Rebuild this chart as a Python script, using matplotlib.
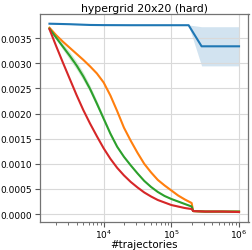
import matplotlib
matplotlib.use("Agg")
import matplotlib.pyplot as plt
import numpy as np

title = "hypergrid 20x20 (hard)"
xlabel = "#trajectories"

traj = [1585, 1995, 2512, 3162, 3981, 5012, 6310, 7943, 10000, 12589, 15849,
        19953, 25119, 31623, 39811, 50119, 63096, 79433, 100000, 125893, 158489,
        199526, 210000, 316228, 562341, 1000000]

orange = [0.00371, 0.00356, 0.00343, 0.00331, 0.00319, 0.00307, 0.00294, 0.00280,
          0.00262, 0.00236, 0.00205, 0.00172, 0.00146, 0.00122, 0.00100, 0.00083,
          0.00068, 0.00057, 0.00047, 0.00037, 0.00029, 0.00022,
          0.00006, 0.00005, 0.00005, 0.00005]
orange_sd = [0.00002] * 26

green = [0.00369, 0.00351, 0.00333, 0.00315, 0.00296, 0.00274, 0.00249, 0.00220,
         0.00190, 0.00160, 0.00134, 0.00114, 0.00097, 0.00081, 0.00066, 0.00054,
         0.00044, 0.00036, 0.00030, 0.00025, 0.00020, 0.00015,
         0.00006, 0.00005, 0.00005, 0.00005]
green_sd = [0.00002, 0.00004, 0.00006, 0.00008, 0.00008, 0.00008, 0.00007, 0.00006,
            0.00005, 0.00004, 0.00003, 0.00002, 0.00002, 0.00001, 0.00001, 0.00001,
            0.00001, 0.00001, 0.00001, 0.00001, 0.00001, 0.00001,
            0.00001, 0.00001, 0.00001, 0.00001]

red = [0.00368, 0.00334, 0.00301, 0.00269, 0.00237, 0.00207, 0.00180, 0.00155,
       0.00131, 0.00110, 0.00092, 0.00077, 0.00064, 0.00053, 0.00043, 0.00035,
       0.00028, 0.00023, 0.00018, 0.00015, 0.00012, 0.00010,
       0.00006, 0.00005, 0.00005, 0.00004]
red_sd = [0.00001] * 26

blue_traj = [1585, 3162, 6310, 10000, 25119, 63096, 100000, 180000, 280000,
             562341, 1000000]
blue = [0.00379, 0.00378, 0.003765, 0.003762, 0.00376, 0.00376, 0.00376, 0.00376,
        0.00334, 0.00334, 0.00334]
blue_sd = [0.000005, 0.000005, 0.000005, 0.000005, 0.000005, 0.000005, 0.000005,
           0.000005, 0.00039, 0.00039, 0.00039]

series = [
    (blue_traj, blue, blue_sd, "#1f77b4"),
    (traj, orange, orange_sd, "#ff7f0e"),
    (traj, green, green_sd, "#2ca02c"),
    (traj, red, red_sd, "#d62728"),
]

fig = plt.figure(figsize=(2.52, 2.51), dpi=100)
ax = fig.add_axes([40 / 252, 28 / 251, 208.5 / 252, 208 / 251])

for x, y, sd, c in series:
    x = np.array(x, dtype=float)
    y = np.array(y)
    sd = np.array(sd)
    ax.fill_between(x, y - sd, y + sd, color=c, alpha=0.2, linewidth=0)
    ax.plot(x, y, color=c, linewidth=1.5)

ax.set_xscale("log")
ax.set_title(title, fontsize=7.8, pad=2.5)
ax.set_xlabel(xlabel, fontsize=7.4, labelpad=-0.5)
ax.tick_params(axis="both", labelsize=6.5, colors="0.35", labelcolor="black",
               length=3.5, width=0.8, pad=2)
ax.tick_params(axis="x", which="major", pad=0.5)
ax.tick_params(axis="x", which="minor", colors="0.35", length=2, width=0.6)
ax.grid(True, which="major", color="0.85", linewidth=0.8)
for s in ax.spines.values():
    s.set_color("0.45")
    s.set_linewidth(0.9)

fig.savefig("out.png", dpi=100)
